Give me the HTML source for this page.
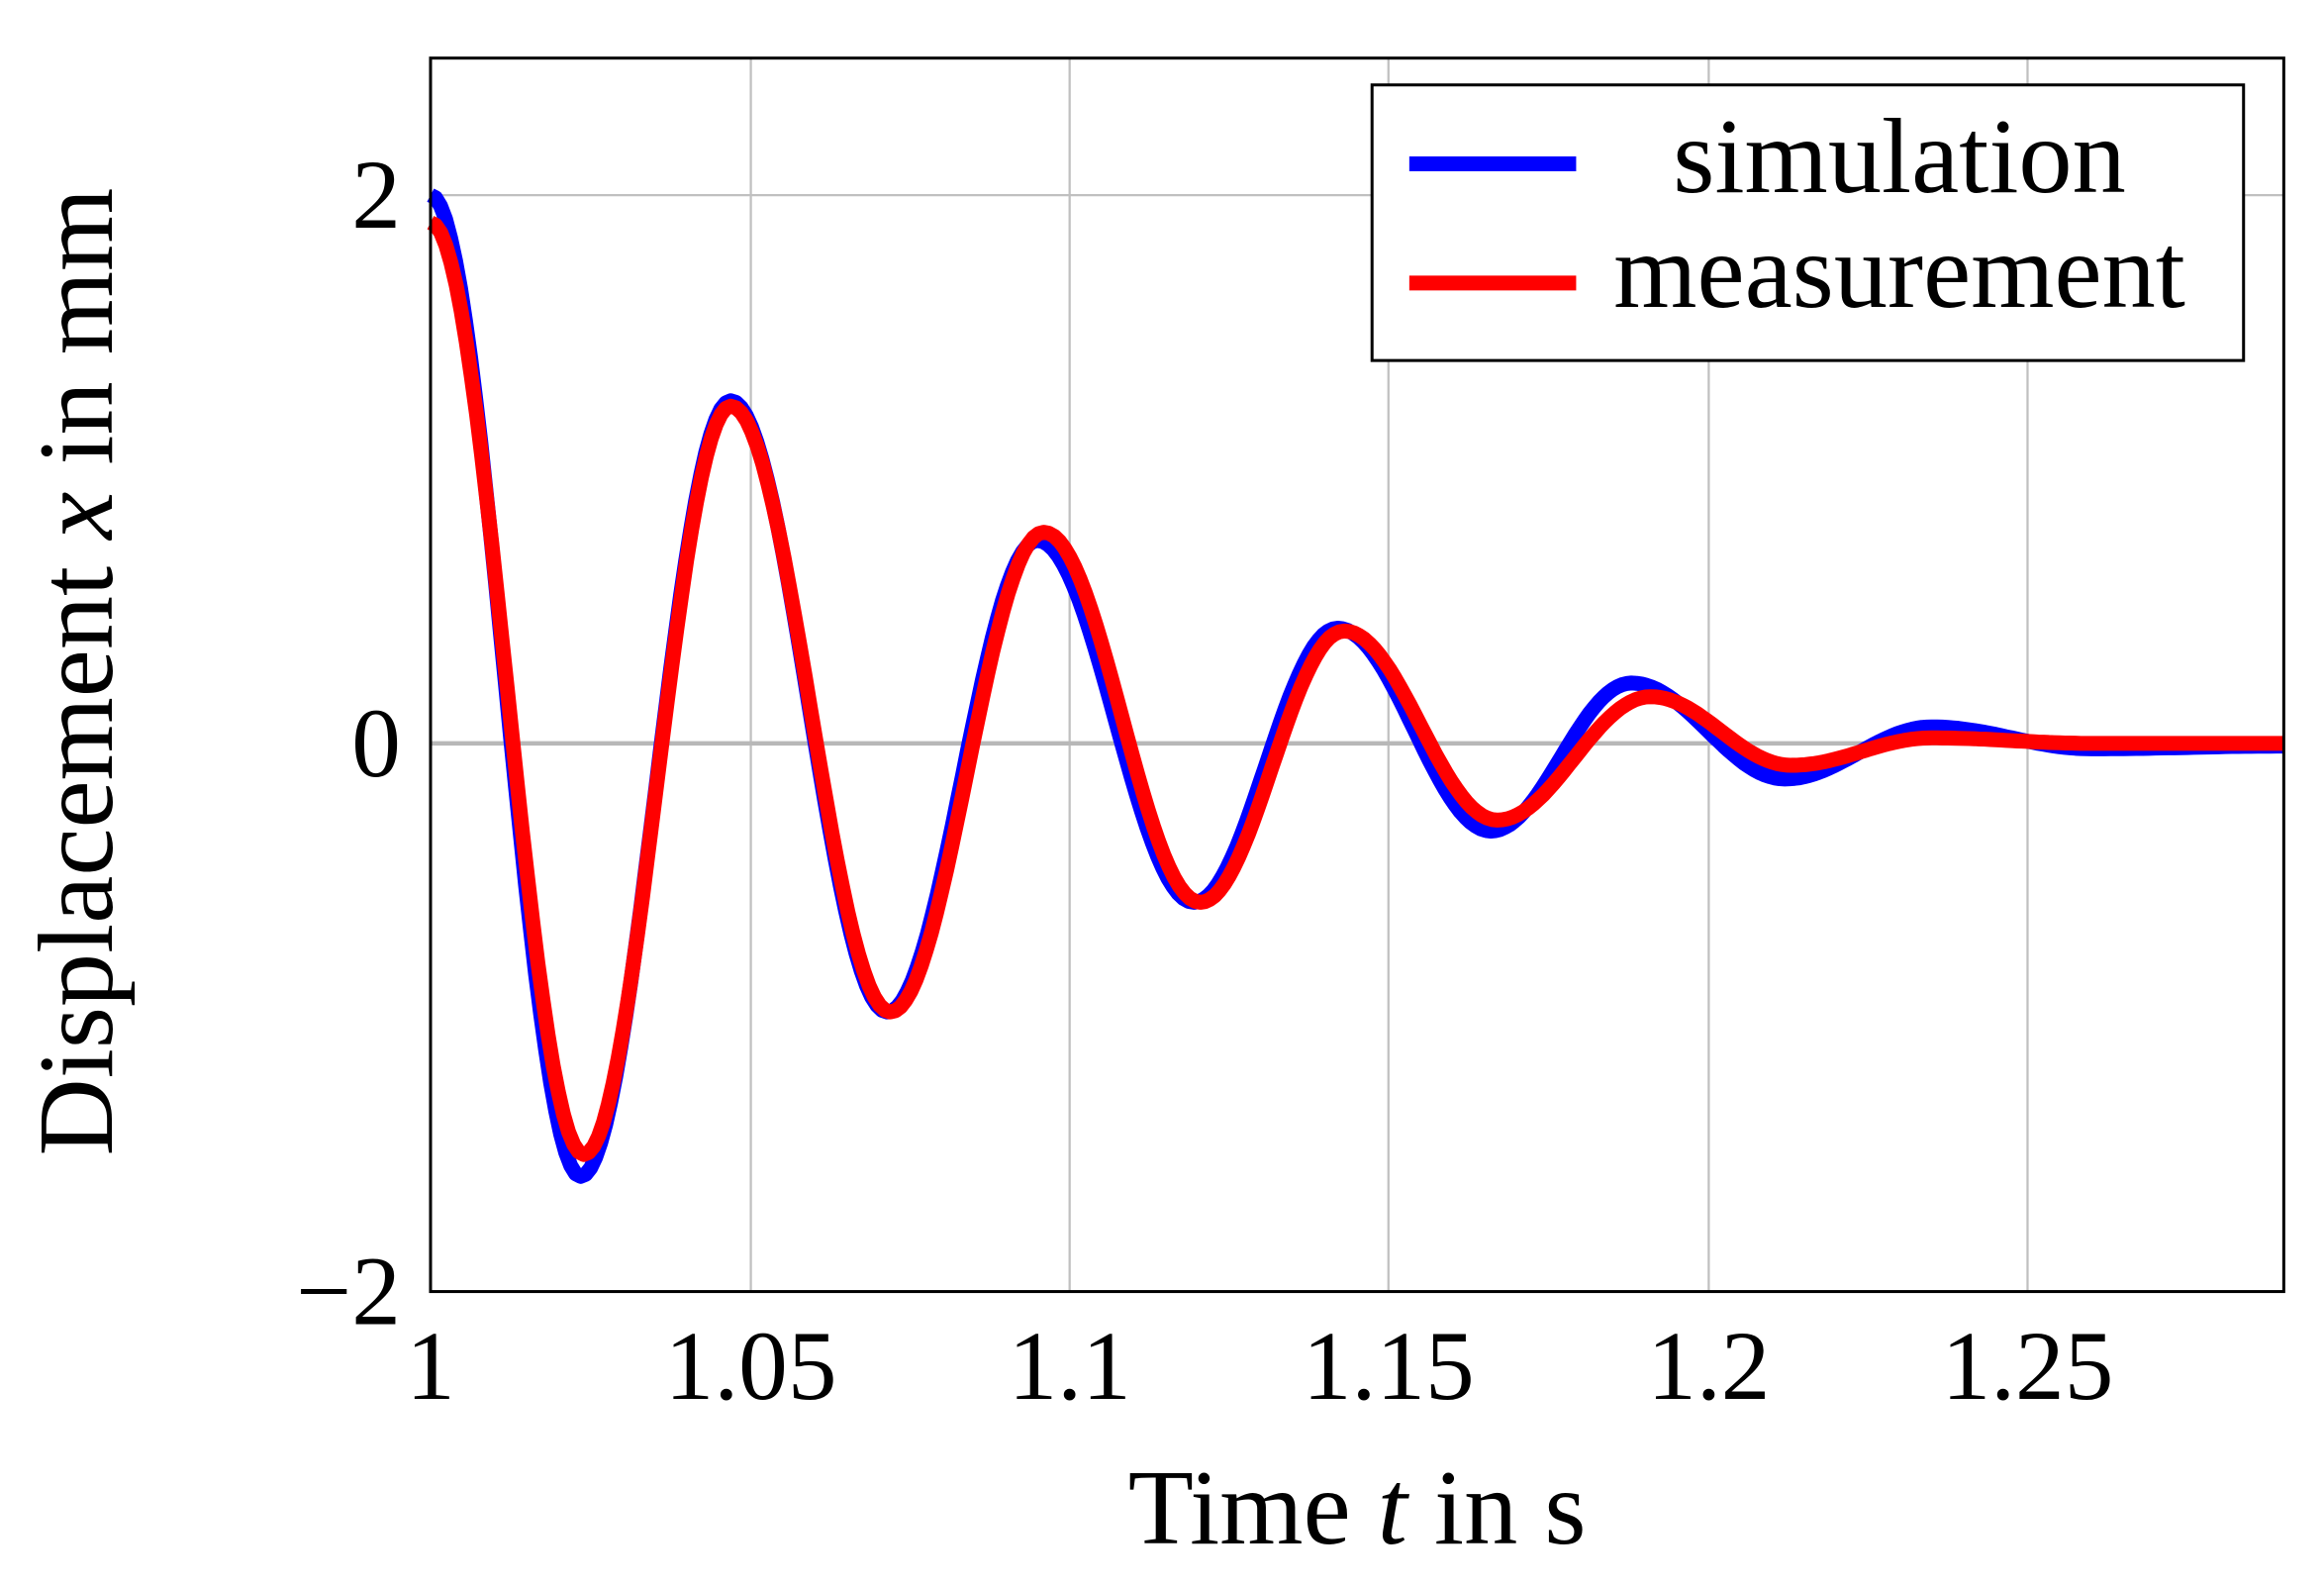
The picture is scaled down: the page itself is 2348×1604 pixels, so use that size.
<!DOCTYPE html>
<html><head><meta charset="utf-8"><style>
html,body{margin:0;padding:0;background:#fff;}
svg{display:block;}
text{font-family:"Liberation Serif",serif;fill:#000;}
</style></head><body>
<svg width="2348" height="1604" viewBox="0 0 1560 1066" preserveAspectRatio="none">
<rect x="0" y="0" width="1560" height="1066" fill="#fff"/>
<g stroke="#c0c0c0" stroke-width="1.5">
<line x1="504" y1="39" x2="504" y2="867"/>
<line x1="718" y1="39" x2="718" y2="867"/>
<line x1="932" y1="39" x2="932" y2="867"/>
<line x1="1147" y1="39" x2="1147" y2="867"/>
<line x1="1361" y1="39" x2="1361" y2="867"/>
<line x1="289" y1="131" x2="1533" y2="131"/>
</g>
<line x1="289" y1="499" x2="1533" y2="499" stroke="#b8b8b8" stroke-width="3"/>
<path id="sim" fill="none" stroke="#0000ff" stroke-width="10" stroke-linejoin="round"/>
<path id="mea" fill="none" stroke="#ff0000" stroke-width="10" stroke-linejoin="round"/>
<rect x="289" y="39" width="1244" height="828" fill="none" stroke="#000" stroke-width="2"/>
<rect x="921" y="57" width="585" height="185" fill="#fff" stroke="#000" stroke-width="2"/>
<line x1="946" y1="110" x2="1058" y2="110" stroke="#0000ff" stroke-width="10"/>
<line x1="946" y1="190" x2="1058" y2="190" stroke="#ff0000" stroke-width="10"/>
<text x="1275" y="129" font-size="72" text-anchor="middle">simulation</text>
<text x="1275" y="206" font-size="72" text-anchor="middle">measurement</text>
<g font-size="66" text-anchor="end">
<text x="269" y="153">2</text>
<text x="269" y="521">0</text>
<text x="269" y="889">−2</text>
</g>
<g font-size="66" text-anchor="middle">
<text x="289" y="939">1</text>
<text x="504" y="939">1.05</text>
<text x="718" y="939">1.1</text>
<text x="932" y="939">1.15</text>
<text x="1147" y="939">1.2</text>
<text x="1361" y="939">1.25</text>
</g>
<text x="911" y="1036" font-size="72" text-anchor="middle">Time <tspan font-style="italic">t</tspan> in s</text>
<text transform="translate(75,451) rotate(-90)" font-size="72" text-anchor="middle">Displacement <tspan font-style="italic">x</tspan> in mm</text>
</svg>
<script>
function build(ext){
  var d="";
  for(var i=0;i<ext.length-1;i++){
    var a=ext[i],b=ext[i+1];
    for(var k=0;k<=30;k++){
      var f=k/30,t=a[0]+(b[0]-a[0])*f;
      var y=a[1]+(b[1]-a[1])*(1-Math.cos(Math.PI*f))/2;
      var px=289+(t-1)*4288,py=499-y*184;
      d+=(d?"L":"M")+px.toFixed(1)+","+py.toFixed(1);
    }
  }
  return d;
}
var sim=[[1.0,2.0],[1.0235,-1.58],[1.047,1.25],[1.0715,-0.98],[1.095,0.74],[1.1195,-0.58],[1.142,0.42],[1.166,-0.32],[1.188,0.22],[1.212,-0.13],[1.235,0.06],[1.26,-0.02],[1.29,-0.01]];
var mea=[[1.0,1.9],[1.024,-1.5],[1.047,1.23],[1.072,-0.98],[1.096,0.77],[1.1205,-0.58],[1.143,0.41],[1.167,-0.28],[1.191,0.17],[1.213,-0.08],[1.235,0.02],[1.26,0],[1.29,0]];
document.getElementById("sim").setAttribute("d",build(sim));
document.getElementById("mea").setAttribute("d",build(mea));
</script>
</body></html>
